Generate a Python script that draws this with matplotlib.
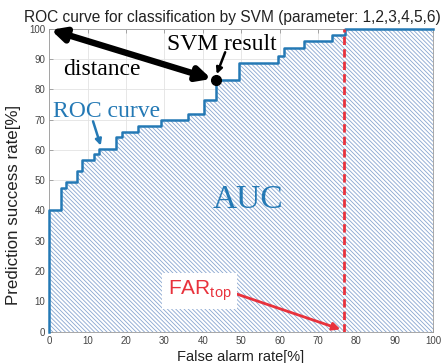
import matplotlib.pyplot as plt

# ROC curve (step corners, 'post' steps)
roc_far = [0, 0, 3, 4.3, 7.3, 8.6, 11.6, 13, 17.5, 19, 23.2, 29, 36.2, 40.2,
           43.4, 49.5, 59.5, 61, 66.3, 73.5, 77, 100]
roc_tpr = [0, 40, 47.3, 49.3, 53, 56.7, 58.5, 60.3, 64.4, 66, 68, 70, 71.8, 76.3,
           83, 88.7, 91, 93.5, 95.8, 98, 100, 100]

svm_far, svm_tpr = 43.4, 83
far_top = 76.8

ticks = [0, 10, 20, 30, 40, 50, 60, 70, 80, 90, 100]

BLUE = '#2479b5'
RED = '#e8323c'

plt.rcParams['font.family'] = ['Liberation Sans', 'DejaVu Sans']
plt.rcParams['mathtext.fontset'] = 'custom'
plt.rcParams['mathtext.rm'] = 'Liberation Sans'
plt.rcParams['hatch.linewidth'] = 0.6

fig = plt.figure(figsize=(4.46, 3.63), dpi=100)
ax = fig.add_axes([0.1105, 0.0862, 0.861, 0.835])

# ── area under curve (hatched) ──
ax.fill_between(roc_far, roc_tpr, 0, step='post', facecolor='white',
                edgecolor='#88a5d0', hatch='\\' * 8, linewidth=0, zorder=2)
ax.step(roc_far, roc_tpr, where='post', color=BLUE, linewidth=1.8, zorder=4,
        clip_on=False)

# FAR_top dashed line
ax.plot([far_top, far_top], [0, 100], color=RED, linestyle=(0, (3, 1.5)),
        linewidth=2.0, zorder=5)

# SVM point
ax.plot(svm_far, svm_tpr, 'o', color='black', markersize=7, zorder=7)

ax.set_xlim(0, 100)
ax.set_ylim(0, 100)
ax.set_xticks(ticks)
ax.set_yticks(ticks)
ax.tick_params(direction='in', length=3, width=0.5, colors='#888888',
               labelcolor='#444444', labelsize=7, top=True, right=True, pad=3)
ax.grid(True, color='#e3e3e3', linewidth=0.6, zorder=0)
ax.set_axisbelow(True)
for s in ax.spines.values():
    s.set_color('#999999')
    s.set_linewidth(0.6)

# ── text annotations ──
fig.text(0.522, 0.952, 'ROC curve for classification by SVM (parameter: 1,2,3,4,5,6)',
         ha='center', va='center', fontsize=11.2, color='#222222')
fig.text(0.540, 0.017, 'False alarm rate[%]', ha='center', va='center',
         fontsize=10.5, color='#222222')
fig.text(0.030, 0.435, 'Prediction success rate[%]', ha='center', va='center',
         rotation=90, fontsize=12.2, color='#222222')

serif = ['Liberation Serif', 'DejaVu Serif']
ax.text(30.6, 93.0, 'SVM result', family=serif, fontsize=17, color='black',
        va='baseline', zorder=8)
ax.text(3.6, 84.7, 'distance', family=serif, fontsize=17, color='black',
        va='baseline', zorder=8)
ax.text(1.0, 71.0, 'ROC curve', family=serif, fontsize=17, color=BLUE,
        va='baseline', zorder=8)
ax.text(51.8, 43.5, 'AUC', family=serif, fontsize=24, color=BLUE,
        ha='center', va='center', zorder=8)

# distance arrow (double headed)
ax.annotate('', xy=(0.4, 99.6), xytext=(42.2, 83.4),
            arrowprops=dict(arrowstyle='<|-|>', color='black', lw=4.6,
                            mutation_scale=20, shrinkA=0, shrinkB=0), zorder=8)
# SVM result pointer
ax.annotate('', xy=(43.6, 85.0), xytext=(45.8, 92.2),
            arrowprops=dict(arrowstyle='-|>', color='black', lw=1.8,
                            mutation_scale=9, shrinkA=0, shrinkB=0), zorder=8)
# ROC curve pointer
ax.annotate('', xy=(13.4, 61.4), xytext=(11.4, 69.4),
            arrowprops=dict(arrowstyle='-|>', color=BLUE, lw=1.8,
                            mutation_scale=9, shrinkA=0, shrinkB=0), zorder=8)

# FAR_top label + arrow
ax.annotate('', xy=(75.8, 0.8), xytext=(47.5, 13.0),
            arrowprops=dict(arrowstyle='-|>', color=RED, lw=2.0,
                            mutation_scale=11, shrinkA=0, shrinkB=0), zorder=8)
ax.text(39.2, 13.4, r'FAR$_{\mathrm{top}}$', fontsize=15, color=RED,
        ha='center', va='center', zorder=9,
        bbox=dict(facecolor='white', edgecolor='none', pad=4))

fig.savefig('out.png', dpi=100)
